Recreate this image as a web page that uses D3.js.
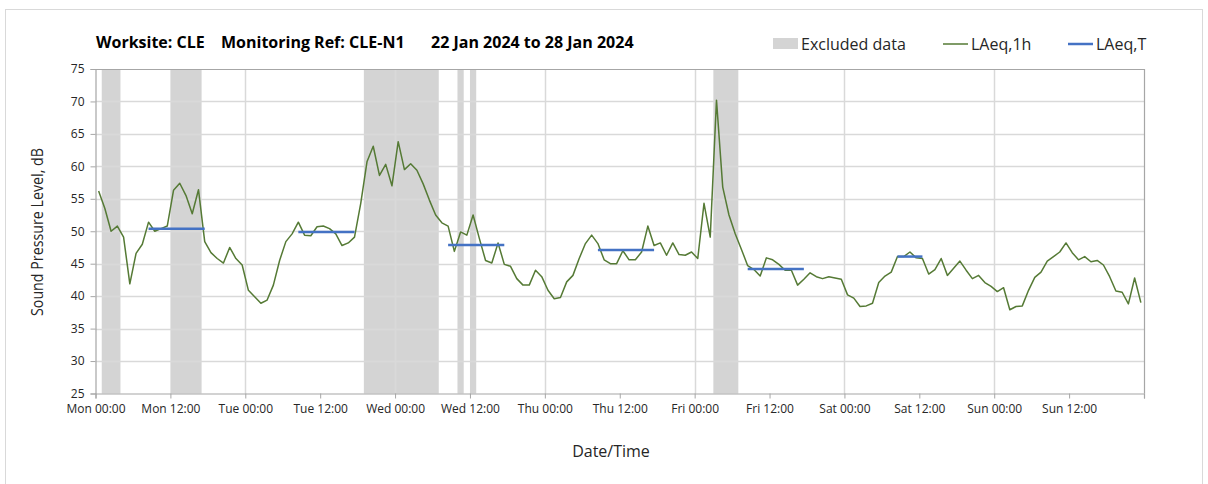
<!DOCTYPE html>
<html>
<head>
<meta charset="utf-8">
<script src="https://cdn.jsdelivr.net/npm/d3@7"></script>
<style>
  html, body { margin: 0; padding: 0; background: #ffffff; }
  svg { display: block; font-family: "Open Sans", "Noto Sans", sans-serif; }
</style>
</head>
<body>
<svg id="chart" width="1208" height="484"></svg>
<script>
// ---------------- DATA ----------------
// Hourly LAeq,1h values, Mon 22 Jan 2024 00:00 to Sun 28 Jan 2024 23:00 (one per hour)
const laeq1hMon = [56.2,53.5,50.0,50.8,49.1,41.9,46.6,48.0,51.4,50.0,50.4,50.8,56.3,57.4,55.5,52.7,56.4,48.4,46.7,45.8,45.1,47.5,45.8,44.8];
const laeq1hTue = [40.9,39.9,38.9,39.4,41.7,45.5,48.4,49.6,51.4,49.4,49.3,50.7,50.8,50.4,49.6,47.8,48.2,49.1,54.3,60.7,63.1,58.6,60.3,57.0];
const laeq1hWed = [63.8,59.5,60.4,59.4,57.3,54.8,52.5,51.3,50.8,46.9,49.9,49.4,52.5,48.9,45.5,45.1,48.2,44.9,44.6,42.7,41.7,41.7,44.0,43.0];
const laeq1hThu = [40.9,39.6,39.8,42.2,43.2,45.8,48.1,49.4,48.1,45.6,45.0,45.0,47.0,45.6,45.6,46.8,50.8,47.8,48.2,46.3,48.2,46.4,46.3,46.8];
const laeq1hFri = [45.8,54.3,49.1,70.2,56.8,52.5,49.6,47.2,44.7,44.1,43.1,45.9,45.6,44.9,44.0,44.0,41.7,42.6,43.6,43.0,42.7,43.0,42.8,42.6];
const laeq1hSat = [40.2,39.7,38.4,38.5,38.9,42.1,43.1,43.7,46.1,46.1,46.8,45.9,45.8,43.4,44.1,45.8,43.2,44.3,45.4,44.0,42.7,43.2,42.1,41.5];
const laeq1hSun = [40.7,41.3,37.9,38.4,38.5,40.9,42.9,43.7,45.4,46.1,46.8,48.2,46.7,45.6,46.1,45.3,45.5,44.8,43.0,40.8,40.6,38.8,42.8,39.0];

// LAeq,T periods: start hour, end hour (hours from Mon 00:00, hourly mid-points) and level
const laeqTStart = [8.5, 32.5, 56.5, 80.5, 104.5, 128.5];
const laeqTEnd   = [17.5, 41.5, 65.5, 89.5, 113.5, 132.5];
const laeqTValue = [50.4, 49.9, 47.9, 47.1, 44.2, 46.1];

// Excluded data periods (hours from Mon 00:00)
const excludedStart = [1, 12, 43, 58, 60, 99];
const excludedEnd   = [4, 17, 55, 59, 61, 103];

// Axis tick labels (every 12 hours)
const xTickLabels = ["Mon 00:00","Mon 12:00","Tue 00:00","Tue 12:00","Wed 00:00","Wed 12:00","Thu 00:00","Thu 12:00","Fri 00:00","Fri 12:00","Sat 00:00","Sat 12:00","Sun 00:00","Sun 12:00"];
const yTicks = [25,30,35,40,45,50,55,60,65,70,75];

const titleParts = ["Worksite: CLE", "Monitoring Ref: CLE-N1", "22 Jan 2024 to 28 Jan 2024"];
const legendLabels = ["Excluded data", "LAeq,1h", "LAeq,T"];
const yAxisTitle = "Sound Pressure Level, dB";
const xAxisTitle = "Date/Time";

// ---------------- BUILD ----------------
const laeq1h = [].concat(laeq1hMon, laeq1hTue, laeq1hWed, laeq1hThu, laeq1hFri, laeq1hSat, laeq1hSun);
const series = laeq1h.map((v, i) => ({ t: i + 0.5, v }));

const svg = d3.select("#chart");
const plot = { left: 95.5, right: 1144, top: 69, bottom: 393.5 };

const x = d3.scaleLinear().domain([0, 168]).range([plot.left, plot.right]);
const y = d3.scaleLinear().domain([25, 75]).range([plot.bottom, plot.top]);

const GRID = "#d9d9d9";
const AXIS = "#a6a6a6";
const TEXT = "#262626";

// outer chart frame
svg.append("rect")
  .attr("x", 5.5).attr("y", 9.5).attr("width", 1197).attr("height", 490)
  .attr("fill", "none").attr("stroke", "#d9d9d9").attr("stroke-width", 1);

// excluded data bands
svg.append("g").selectAll("rect")
  .data(excludedStart.map((s, i) => [s, excludedEnd[i]]))
  .join("rect")
  .attr("x", d => x(d[0]))
  .attr("width", d => x(d[1]) - x(d[0]))
  .attr("y", plot.top)
  .attr("height", plot.bottom - plot.top)
  .attr("fill", "#d4d4d4");

// horizontal grid
svg.append("g").selectAll("line")
  .data(yTicks.filter(t => t > 25 && t < 75))
  .join("line")
  .attr("x1", plot.left).attr("x2", plot.right)
  .attr("y1", d => Math.round(y(d)) + 0.5).attr("y2", d => Math.round(y(d)) + 0.5)
  .attr("stroke", GRID).attr("stroke-width", 1.5);

// vertical grid at each day
svg.append("g").selectAll("line")
  .data(d3.range(24, 168, 24))
  .join("line")
  .attr("x1", d => Math.round(x(d)) + 0.5).attr("x2", d => Math.round(x(d)) + 0.5)
  .attr("y1", plot.top).attr("y2", plot.bottom)
  .attr("stroke", GRID).attr("stroke-width", 1.5);

// plot border (top and right)
svg.append("path")
  .attr("d", `M${plot.left},${plot.top + 0.5}H${plot.right + 0.5}V${plot.bottom}`)
  .attr("fill", "none").attr("stroke", AXIS).attr("stroke-width", 1.2);

// y axis
const yAxis = d3.axisLeft(y).tickValues(yTicks).tickSize(5).tickPadding(6).tickFormat(d3.format("d"));
const gy = svg.append("g").attr("transform", `translate(${plot.left},0)`).call(yAxis);
gy.select(".domain").attr("stroke", AXIS).attr("stroke-width", 1.2);
gy.selectAll(".tick line").attr("stroke", AXIS);
gy.selectAll("text").attr("fill", TEXT).attr("font-size", 12).attr("font-family", "Open Sans, sans-serif");

// x axis
const xAxis = d3.axisBottom(x).tickValues(d3.range(0, 169, 12)).tickSize(5).tickPadding(6)
  .tickFormat(d => xTickLabels[d / 12] || "");
const gx = svg.append("g").attr("transform", `translate(0,${plot.bottom})`).call(xAxis);
gx.select(".domain").attr("stroke", AXIS).attr("stroke-width", 1.2);
gx.selectAll(".tick line").attr("stroke", AXIS);
gx.selectAll("text").attr("fill", TEXT).attr("font-size", 12).attr("font-family", "Open Sans, sans-serif");

// LAeq,1h line
svg.append("path")
  .datum(series)
  .attr("d", d3.line().x(d => x(d.t)).y(d => y(d.v)))
  .attr("fill", "none").attr("stroke", "#557a35").attr("stroke-width", 1.5)
  .attr("stroke-linejoin", "round");

// LAeq,T lines
svg.append("g").selectAll("line")
  .data(laeqTStart.map((s, i) => ({ s, e: laeqTEnd[i], v: laeqTValue[i] })))
  .join("line")
  .attr("x1", d => x(d.s)).attr("x2", d => x(d.e))
  .attr("y1", d => y(d.v)).attr("y2", d => y(d.v))
  .attr("stroke", "#4472c4").attr("stroke-width", 2.5);

// title
const titleX = [96, 221, 431];
svg.append("g").selectAll("text")
  .data(titleParts)
  .join("text")
  .attr("x", (d, i) => titleX[i]).attr("y", 48)
  .attr("font-size", 16).attr("font-weight", "bold").attr("fill", "#000")
  .text(d => d);

// legend
const lg = svg.append("g");
lg.append("rect").attr("x", 773).attr("y", 38).attr("width", 25).attr("height", 11).attr("fill", "#d4d4d4");
lg.append("text").attr("x", 801).attr("y", 50).attr("font-size", 16).attr("fill", TEXT).text(legendLabels[0]);
lg.append("line").attr("x1", 943).attr("x2", 968).attr("y1", 44).attr("y2", 44).attr("stroke", "#557a35").attr("stroke-width", 1.5);
lg.append("text").attr("x", 971).attr("y", 50).attr("font-size", 16).attr("fill", TEXT).text(legendLabels[1]);
lg.append("line").attr("x1", 1068).attr("x2", 1093).attr("y1", 44).attr("y2", 44).attr("stroke", "#4472c4").attr("stroke-width", 2.5);
lg.append("text").attr("x", 1096).attr("y", 50).attr("font-size", 16).attr("fill", TEXT).text(legendLabels[2]);

// axis titles
svg.append("text")
  .attr("transform", `translate(43,232) rotate(-90)`)
  .attr("text-anchor", "middle").attr("font-size", 15.5).attr("fill", TEXT)
  .attr("textLength", 168).attr("lengthAdjust", "spacingAndGlyphs")
  .text(yAxisTitle);
svg.append("text")
  .attr("x", 611).attr("y", 457).attr("text-anchor", "middle")
  .attr("font-size", 16).attr("fill", TEXT)
  .text(xAxisTitle);
</script>
</body>
</html>
